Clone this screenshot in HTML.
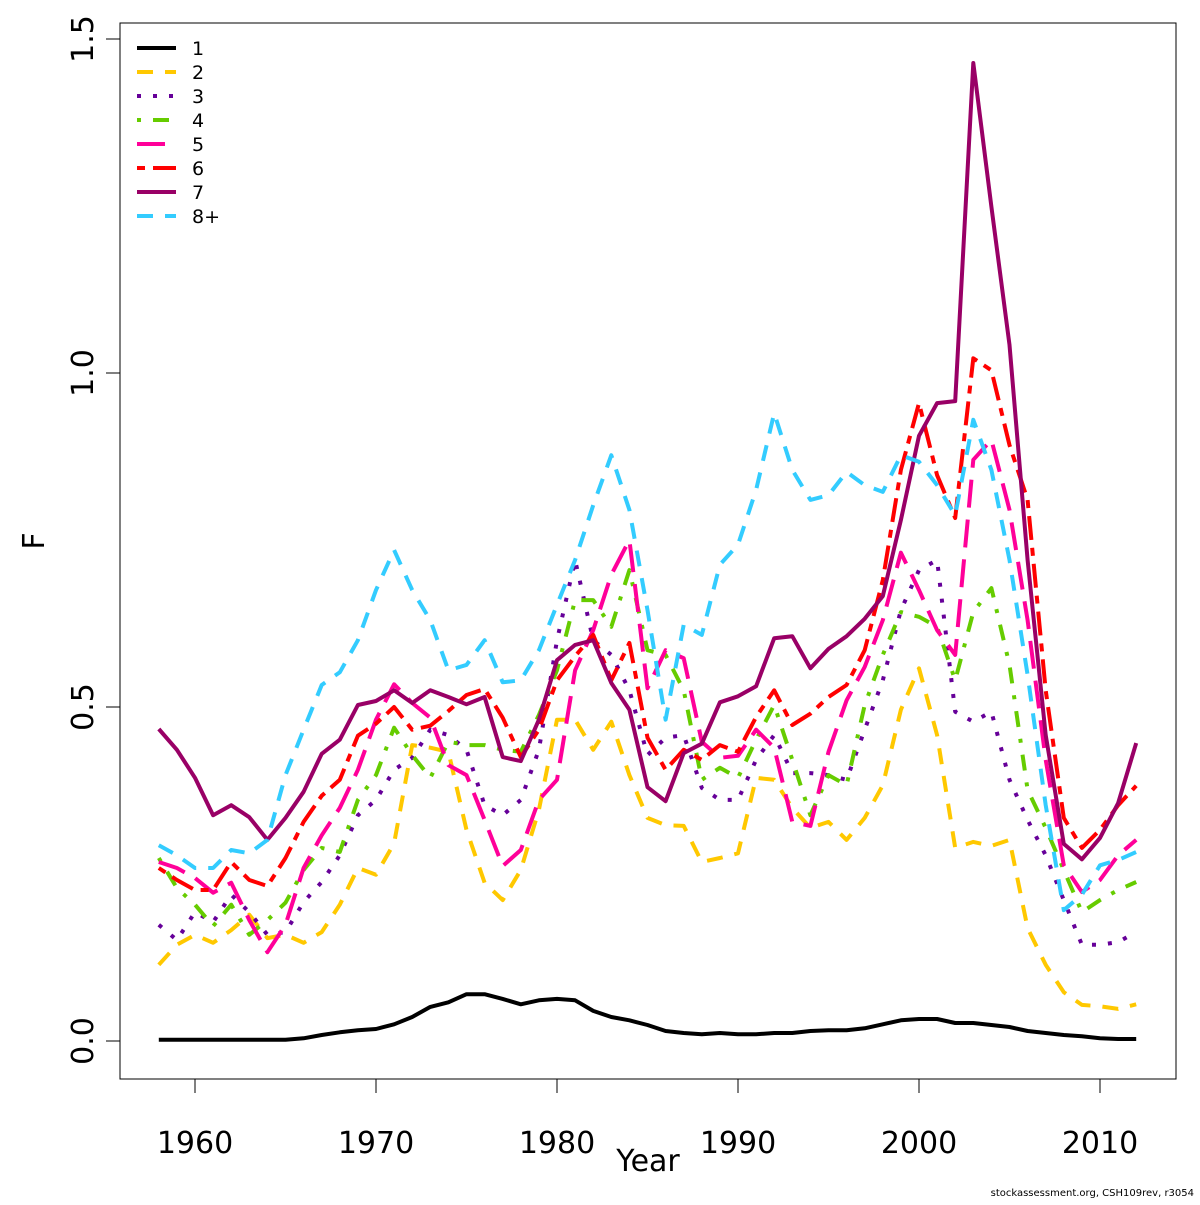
<!DOCTYPE html>
<html><head><meta charset="utf-8"><style>
body{margin:0;background:#fff}
svg text{font-family:"DejaVu Sans","Liberation Sans",sans-serif}
</style></head><body>
<svg id="chart" width="1200" height="1200" xmlns="http://www.w3.org/2000/svg">
<rect x="120" y="23" width="1056" height="1056" fill="none" stroke="#000" stroke-width="1"/>
<g id="axes"></g>
<g id="series"></g>
<g id="legend"></g>
<text x="648" y="1171" font-size="30" text-anchor="middle">Year</text>
<text x="44" y="541" font-size="30" text-anchor="middle" transform="rotate(-90 44 541)">F</text>
<text x="1194" y="1196" font-size="10" text-anchor="end">stockassessment.org, CSH109rev, r3054</text>
</svg>
<script>
const years = [];
for (let y = 1958; y <= 2012; y++) years.push(y);
const xTicks = [1960,1970,1980,1990,2000,2010];
const yTicks = [0,0.5,1.0,1.5];
const yTickLabels = ["0.0","0.5","1.0","1.5"];
const seriesNames = ["1","2","3","4","5","6","7","8+"];
const age1 = [.002,.002,.002,.002,.002,.002,.002,.002,.004,.009,.013,.016,.018,.025,.036,.051,.058,.070,.070,.063,.055,.061,.063,.061,.045,.036,.031,.024,.015,.012,.010,.012,.010,.010,.012,.012,.015,.016,.016,.019,.025,.031,.033,.033,.027,.027,.024,.021,.015,.012,.009,.007,.004,.003,.003];
const age2 = [.114,.144,.159,.147,.166,.189,.154,.159,.147,.163,.204,.259,.249,.296,.443,.439,.433,.316,.237,.211,.256,.346,.481,.481,.436,.478,.398,.334,.323,.322,.268,.274,.281,.394,.391,.349,.319,.328,.301,.334,.383,.496,.558,.458,.289,.298,.292,.301,.169,.114,.073,.054,.052,.048,.055];
const age3 = [.174,.151,.193,.178,.219,.193,.159,.163,.208,.238,.278,.338,.361,.406,.424,.466,.458,.436,.353,.338,.361,.436,.600,.720,.600,.578,.525,.428,.454,.458,.379,.361,.361,.421,.458,.401,.401,.398,.391,.466,.540,.645,.705,.720,.493,.478,.493,.391,.331,.278,.211,.144,.144,.148,.163];
const age4 = [.274,.229,.204,.172,.204,.159,.181,.207,.256,.289,.283,.361,.398,.469,.428,.394,.448,.443,.443,.436,.433,.488,.555,.660,.660,.620,.705,.585,.578,.525,.391,.409,.394,.451,.503,.421,.338,.398,.383,.503,.578,.642,.635,.620,.540,.642,.678,.563,.376,.319,.256,.193,.211,.226,.238];
const age5 = [.268,.259,.244,.222,.237,.181,.133,.174,.259,.308,.349,.406,.481,.534,.506,.484,.413,.398,.331,.262,.286,.361,.391,.555,.615,.698,.750,.528,.585,.573,.448,.424,.427,.466,.439,.328,.322,.433,.510,.560,.630,.731,.675,.615,.578,.870,.900,.795,.630,.421,.263,.223,.241,.278,.301];
const age6 = [.259,.241,.226,.226,.268,.241,.232,.274,.328,.367,.391,.457,.475,.500,.466,.472,.494,.518,.527,.484,.425,.466,.540,.576,.608,.540,.596,.454,.406,.436,.421,.443,.433,.485,.525,.473,.490,.515,.533,.585,.690,.855,.955,.847,.783,1.022,1.004,.892,.810,.525,.334,.289,.316,.353,.382];
const age7 = [.467,.436,.394,.338,.353,.335,.301,.334,.373,.430,.451,.503,.509,.525,.506,.525,.515,.504,.515,.425,.419,.481,.570,.593,.600,.536,.496,.380,.359,.431,.445,.507,.516,.531,.603,.606,.558,.587,.606,.632,.666,.780,.906,.955,.958,1.464,1.249,1.042,.720,.458,.295,.272,.304,.356,.446];
const age8 = [.293,.278,.259,.259,.286,.281,.301,.398,.466,.533,.552,.600,.675,.735,.675,.630,.555,.563,.600,.537,.540,.585,.653,.720,.802,.877,.795,.645,.481,.623,.608,.713,.743,.825,.940,.855,.810,.817,.852,.832,.822,.877,.867,.832,.787,.930,.855,.720,.548,.353,.196,.219,.263,.271,.283];

const NS="http://www.w3.org/2000/svg";
const xs = v => 195 + (v - 1960) * 18.1;
const ys = v => 1041 - v * 668;
const styles = [
 {c:"#000000",d:""},{c:"#FFC800",d:"16,12"},{c:"#660099",d:"4,12"},{c:"#66CC00",d:"4,12,16,12"},
 {c:"#FF0099",d:"28,12"},{c:"#FF0000",d:"8,8,24,8"},{c:"#990066",d:""},{c:"#33CCFF",d:"16,12"}];
const allSeries=[age1,age2,age3,age4,age5,age6,age7,age8];
function mk(tag,attrs,parent){const e=document.createElementNS(NS,tag);for(const k in attrs)e.setAttribute(k,attrs[k]);parent.appendChild(e);return e;}
const axes=document.getElementById('axes');
let l=mk('line',{x1:xs(xTicks[0]),x2:xs(xTicks[xTicks.length-1]),y1:1079,y2:1079,stroke:'#000'},axes);


xTicks.forEach(t=>{
 const tk=mk('line',{x1:xs(t),x2:xs(t),y1:1079,y2:1093,stroke:'#000'},axes);
 
 
 const tx=mk('text',{x:xs(t),y:1153,'font-size':30,'text-anchor':'middle'},axes);tx.textContent=t;
 
 
});
l=mk('line',{x1:120,x2:120,y1:ys(yTicks[0]),y2:ys(yTicks[yTicks.length-1]),stroke:'#000'},axes);


yTicks.forEach((t,i)=>{
 const tk=mk('line',{x1:106,x2:120,y1:ys(t),y2:ys(t),stroke:'#000'},axes);
 
 
 const tx=mk('text',{x:93,y:ys(t),'font-size':30,'text-anchor':'middle',transform:`rotate(-90 93 ${ys(t)})`},axes);tx.textContent=yTickLabels[i];
 
 
});
const sg=document.getElementById('series');
allSeries.forEach((arr,i)=>{
 const pts=arr.map((v,j)=>xs(years[j]).toFixed(1)+','+ys(v).toFixed(1)).join(' ');
 const p=mk('polyline',{points:pts,fill:'none',stroke:styles[i].c,'stroke-width':4,'stroke-linejoin':'round'},sg);
 if(styles[i].d)p.setAttribute('stroke-dasharray',styles[i].d);
 
 
});
const lg=document.getElementById('legend');
seriesNames.forEach((n,i)=>{
 const y=48+i*24;
 const ln=mk('line',{x1:137,x2:176,y1:y,y2:y,stroke:styles[i].c,'stroke-width':4},lg);
 if(styles[i].d)ln.setAttribute('stroke-dasharray',styles[i].d);
 
 
 const tx=mk('text',{x:192,y:y+7,'font-size':19},lg);tx.textContent=n;
 
 
});
</script>
</body></html>
